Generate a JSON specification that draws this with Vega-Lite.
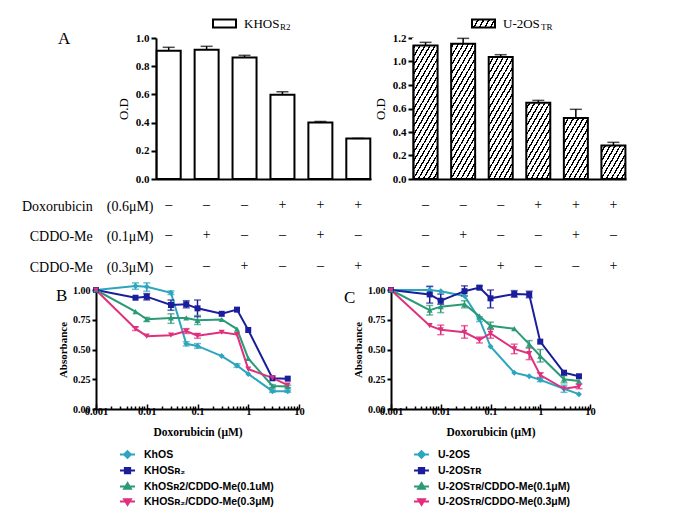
{
  "$schema": "https://vega.github.io/schema/vega-lite/v6.json",
  "background": "white",
  "padding": {"left": 21, "top": 11, "right": 5, "bottom": 5},
  "config": {
    "view": {"stroke": null},
    "font": "Liberation Serif",
    "axis": {"grid": false, "domainColor": "#000", "tickColor": "#000", "labelColor": "#000", "titleColor": "#000", "labelOverlap": false},
    "axisY": {"labelOverlap": false, "labelSeparation": 0},
    "legend": {"labelColor": "#000", "titleColor": "#000"},
    "title": {"color": "#000"}
  },
  "datasets": {
    "bars": [
      {"panel": "L", "cond": "–|–|–", "od": 0.91, "hi": 0.934},
      {"panel": "L", "cond": "–|+|–", "od": 0.917, "hi": 0.941},
      {"panel": "L", "cond": "–|–|+", "od": 0.861, "hi": 0.877},
      {"panel": "L", "cond": "+|–|–", "od": 0.597, "hi": 0.618},
      {"panel": "L", "cond": "+|+|–", "od": 0.401, "hi": 0.408},
      {"panel": "L", "cond": "+|–|+", "od": 0.288, "hi": 0.288},
      {"panel": "R", "cond": "–|–|–", "od": 1.137, "hi": 1.163},
      {"panel": "R", "cond": "–|+|–", "od": 1.152, "hi": 1.197},
      {"panel": "R", "cond": "–|–|+", "od": 1.038, "hi": 1.058},
      {"panel": "R", "cond": "+|–|–", "od": 0.649, "hi": 0.669},
      {"panel": "R", "cond": "+|+|–", "od": 0.519, "hi": 0.593},
      {"panel": "R", "cond": "+|–|+", "od": 0.286, "hi": 0.312}
    ],
    "lines": [
      {"p": "B", "s": "KhOS", "x": 0.001, "y": 1.0},
      {"p": "B", "s": "KhOS", "x": 0.006, "y": 1.034, "lo": 1.006, "hi": 1.06},
      {"p": "B", "s": "KhOS", "x": 0.01, "y": 1.028, "lo": 0.99, "hi": 1.06},
      {"p": "B", "s": "KhOS", "x": 0.03, "y": 0.977, "lo": 0.962, "hi": 0.992},
      {"p": "B", "s": "KhOS", "x": 0.06, "y": 0.548, "lo": 0.53, "hi": 0.565},
      {"p": "B", "s": "KhOS", "x": 0.1, "y": 0.53, "lo": 0.51, "hi": 0.55},
      {"p": "B", "s": "KhOS", "x": 0.3, "y": 0.445},
      {"p": "B", "s": "KhOS", "x": 0.6, "y": 0.365, "lo": 0.35, "hi": 0.38},
      {"p": "B", "s": "KhOS", "x": 1, "y": 0.295},
      {"p": "B", "s": "KhOS", "x": 3, "y": 0.15, "lo": 0.14, "hi": 0.16},
      {"p": "B", "s": "KhOS", "x": 6, "y": 0.15, "lo": 0.14, "hi": 0.16},
      {"p": "B", "s": "KHOSʀ₂", "x": 0.001, "y": 1.0},
      {"p": "B", "s": "KHOSʀ₂", "x": 0.006, "y": 0.935},
      {"p": "B", "s": "KHOSʀ₂", "x": 0.01, "y": 0.944, "lo": 0.916, "hi": 0.97},
      {"p": "B", "s": "KHOSʀ₂", "x": 0.03, "y": 0.874, "lo": 0.83, "hi": 0.916},
      {"p": "B", "s": "KHOSʀ₂", "x": 0.06, "y": 0.88, "lo": 0.85, "hi": 0.91},
      {"p": "B", "s": "KHOSʀ₂", "x": 0.1, "y": 0.846, "lo": 0.776, "hi": 0.916},
      {"p": "B", "s": "KHOSʀ₂", "x": 0.3, "y": 0.8},
      {"p": "B", "s": "KHOSʀ₂", "x": 0.6, "y": 0.835},
      {"p": "B", "s": "KHOSʀ₂", "x": 1, "y": 0.664},
      {"p": "B", "s": "KHOSʀ₂", "x": 3, "y": 0.258},
      {"p": "B", "s": "KHOSʀ₂", "x": 6, "y": 0.255},
      {"p": "B", "s": "KhOSʀ2/CDDO-Me(0.1uM)", "x": 0.001, "y": 1.0},
      {"p": "B", "s": "KhOSʀ2/CDDO-Me(0.1uM)", "x": 0.006, "y": 0.818},
      {"p": "B", "s": "KhOSʀ2/CDDO-Me(0.1uM)", "x": 0.01, "y": 0.754, "lo": 0.735, "hi": 0.77},
      {"p": "B", "s": "KhOSʀ2/CDDO-Me(0.1uM)", "x": 0.03, "y": 0.765, "lo": 0.72, "hi": 0.8},
      {"p": "B", "s": "KhOSʀ2/CDDO-Me(0.1uM)", "x": 0.06, "y": 0.765},
      {"p": "B", "s": "KhOSʀ2/CDDO-Me(0.1uM)", "x": 0.1, "y": 0.745, "lo": 0.71, "hi": 0.785},
      {"p": "B", "s": "KhOSʀ2/CDDO-Me(0.1uM)", "x": 0.3, "y": 0.752},
      {"p": "B", "s": "KhOSʀ2/CDDO-Me(0.1uM)", "x": 0.6, "y": 0.672},
      {"p": "B", "s": "KhOSʀ2/CDDO-Me(0.1uM)", "x": 1, "y": 0.425},
      {"p": "B", "s": "KhOSʀ2/CDDO-Me(0.1uM)", "x": 3, "y": 0.193, "lo": 0.18, "hi": 0.205},
      {"p": "B", "s": "KhOSʀ2/CDDO-Me(0.1uM)", "x": 6, "y": 0.19, "lo": 0.18, "hi": 0.2},
      {"p": "B", "s": "KHOSʀ₂/CDDO-Me(0.3μM)", "x": 0.001, "y": 1.0},
      {"p": "B", "s": "KHOSʀ₂/CDDO-Me(0.3μM)", "x": 0.006, "y": 0.675, "lo": 0.66, "hi": 0.69},
      {"p": "B", "s": "KHOSʀ₂/CDDO-Me(0.3μM)", "x": 0.01, "y": 0.612},
      {"p": "B", "s": "KHOSʀ₂/CDDO-Me(0.3μM)", "x": 0.03, "y": 0.62},
      {"p": "B", "s": "KHOSʀ₂/CDDO-Me(0.3μM)", "x": 0.06, "y": 0.655, "lo": 0.635, "hi": 0.675},
      {"p": "B", "s": "KHOSʀ₂/CDDO-Me(0.3μM)", "x": 0.1, "y": 0.616, "lo": 0.595, "hi": 0.635},
      {"p": "B", "s": "KHOSʀ₂/CDDO-Me(0.3μM)", "x": 0.3, "y": 0.645},
      {"p": "B", "s": "KHOSʀ₂/CDDO-Me(0.3μM)", "x": 0.6, "y": 0.625},
      {"p": "B", "s": "KHOSʀ₂/CDDO-Me(0.3μM)", "x": 1, "y": 0.335},
      {"p": "B", "s": "KHOSʀ₂/CDDO-Me(0.3μM)", "x": 3, "y": 0.262},
      {"p": "B", "s": "KHOSʀ₂/CDDO-Me(0.3μM)", "x": 6, "y": 0.2},
      {"p": "C", "s": "U-2OS", "x": 0.001, "y": 1.0},
      {"p": "C", "s": "U-2OS", "x": 0.006, "y": 1.0, "lo": 0.975, "hi": 1.03},
      {"p": "C", "s": "U-2OS", "x": 0.01, "y": 0.99},
      {"p": "C", "s": "U-2OS", "x": 0.03, "y": 0.95},
      {"p": "C", "s": "U-2OS", "x": 0.06, "y": 0.755, "lo": 0.735, "hi": 0.775},
      {"p": "C", "s": "U-2OS", "x": 0.1, "y": 0.525},
      {"p": "C", "s": "U-2OS", "x": 0.3, "y": 0.305},
      {"p": "C", "s": "U-2OS", "x": 0.6, "y": 0.275},
      {"p": "C", "s": "U-2OS", "x": 1, "y": 0.245, "lo": 0.23, "hi": 0.26},
      {"p": "C", "s": "U-2OS", "x": 3, "y": 0.17, "lo": 0.14, "hi": 0.2},
      {"p": "C", "s": "U-2OS", "x": 6, "y": 0.125},
      {"p": "C", "s": "U-2OSᴛʀ", "x": 0.001, "y": 1.0},
      {"p": "C", "s": "U-2OSᴛʀ", "x": 0.006, "y": 0.963, "lo": 0.89, "hi": 1.03},
      {"p": "C", "s": "U-2OSᴛʀ", "x": 0.01, "y": 0.91, "lo": 0.88, "hi": 0.966},
      {"p": "C", "s": "U-2OSᴛʀ", "x": 0.03, "y": 0.99, "lo": 0.95, "hi": 1.035},
      {"p": "C", "s": "U-2OSᴛʀ", "x": 0.06, "y": 1.02, "lo": 1.005, "hi": 1.035},
      {"p": "C", "s": "U-2OSᴛʀ", "x": 0.1, "y": 0.93, "lo": 0.85, "hi": 1.0},
      {"p": "C", "s": "U-2OSᴛʀ", "x": 0.3, "y": 0.966, "lo": 0.94, "hi": 0.995},
      {"p": "C", "s": "U-2OSᴛʀ", "x": 0.6, "y": 0.963, "lo": 0.935, "hi": 0.99},
      {"p": "C", "s": "U-2OSᴛʀ", "x": 1, "y": 0.566},
      {"p": "C", "s": "U-2OSᴛʀ", "x": 3, "y": 0.305},
      {"p": "C", "s": "U-2OSᴛʀ", "x": 6, "y": 0.275},
      {"p": "C", "s": "U-2OSᴛʀ/CDDO-Me(0.1μM)", "x": 0.001, "y": 1.0},
      {"p": "C", "s": "U-2OSᴛʀ/CDDO-Me(0.1μM)", "x": 0.006, "y": 0.83, "lo": 0.79, "hi": 0.87},
      {"p": "C", "s": "U-2OSᴛʀ/CDDO-Me(0.1μM)", "x": 0.01, "y": 0.86, "lo": 0.81, "hi": 0.91},
      {"p": "C", "s": "U-2OSᴛʀ/CDDO-Me(0.1μM)", "x": 0.03, "y": 0.88, "lo": 0.85, "hi": 0.91},
      {"p": "C", "s": "U-2OSᴛʀ/CDDO-Me(0.1μM)", "x": 0.06, "y": 0.78},
      {"p": "C", "s": "U-2OSᴛʀ/CDDO-Me(0.1μM)", "x": 0.1, "y": 0.7, "lo": 0.67, "hi": 0.73},
      {"p": "C", "s": "U-2OSᴛʀ/CDDO-Me(0.1μM)", "x": 0.3, "y": 0.675},
      {"p": "C", "s": "U-2OSᴛʀ/CDDO-Me(0.1μM)", "x": 0.6, "y": 0.545, "lo": 0.515, "hi": 0.575},
      {"p": "C", "s": "U-2OSᴛʀ/CDDO-Me(0.1μM)", "x": 1, "y": 0.445, "lo": 0.395, "hi": 0.5},
      {"p": "C", "s": "U-2OSᴛʀ/CDDO-Me(0.1μM)", "x": 3, "y": 0.25, "lo": 0.22, "hi": 0.28},
      {"p": "C", "s": "U-2OSᴛʀ/CDDO-Me(0.1μM)", "x": 6, "y": 0.235},
      {"p": "C", "s": "U-2OSᴛʀ/CDDO-Me(0.3μM)", "x": 0.001, "y": 1.0},
      {"p": "C", "s": "U-2OSᴛʀ/CDDO-Me(0.3μM)", "x": 0.006, "y": 0.7},
      {"p": "C", "s": "U-2OSᴛʀ/CDDO-Me(0.3μM)", "x": 0.01, "y": 0.665, "lo": 0.625, "hi": 0.705},
      {"p": "C", "s": "U-2OSᴛʀ/CDDO-Me(0.3μM)", "x": 0.03, "y": 0.645, "lo": 0.595, "hi": 0.7},
      {"p": "C", "s": "U-2OSᴛʀ/CDDO-Me(0.3μM)", "x": 0.06, "y": 0.58, "lo": 0.555, "hi": 0.605},
      {"p": "C", "s": "U-2OSᴛʀ/CDDO-Me(0.3μM)", "x": 0.1, "y": 0.635, "lo": 0.595, "hi": 0.675},
      {"p": "C", "s": "U-2OSᴛʀ/CDDO-Me(0.3μM)", "x": 0.3, "y": 0.505, "lo": 0.465, "hi": 0.545},
      {"p": "C", "s": "U-2OSᴛʀ/CDDO-Me(0.3μM)", "x": 0.6, "y": 0.465, "lo": 0.415, "hi": 0.515},
      {"p": "C", "s": "U-2OSᴛʀ/CDDO-Me(0.3μM)", "x": 1, "y": 0.285, "lo": 0.265, "hi": 0.305},
      {"p": "C", "s": "U-2OSᴛʀ/CDDO-Me(0.3μM)", "x": 3, "y": 0.17},
      {"p": "C", "s": "U-2OSᴛʀ/CDDO-Me(0.3μM)", "x": 6, "y": 0.19, "lo": 0.17, "hi": 0.21}
    ]
  },
  "spacing": 7,
  "resolve": {"scale": {"color": "independent", "shape": "independent", "stroke": "independent"}},
  "vconcat": [
    {
      "spacing": 2,
      "resolve": {"scale": {"color": "independent", "shape": "independent", "stroke": "independent"}},
      "hconcat": [
        {
          "width": 215,
          "height": 141,
          "data": {"name": "bars"},
          "transform": [{"filter": "datum.panel == 'L'"}],
          "title": {"text": "A", "orient": "top", "anchor": "start", "frame": "group", "offset": 0, "dx": -98, "dy": 50, "baseline": "alphabetic", "font": "Liberation Serif", "fontSize": 17, "fontWeight": "normal"},
          "encoding": {
            "x": {
              "field": "cond", "type": "nominal", "sort": null,
              "scale": {"paddingInner": 0.33, "paddingOuter": 0},
              "axis": {
                "title": ["Doxorubicin\u2003(0.6μM)", "CDDO-Me\u2003(0.1μM)", "CDDO-Me\u2003(0.3μM)"],
                "titleAlign": "right", "titleAnchor": "start", "titleX": -3, "titleY": 31, "titleBaseline": "alphabetic",
                "titleFont": "Liberation Serif", "titleFontSize": 14, "titleFontWeight": "normal", "titleLineHeight": 30.5, "titleAngle": 0,
                "labelExpr": "split(datum.label, '|')", "labelAngle": 0, "labelFont": "Liberation Serif", "labelFontSize": 14,
                "labelLineHeight": 30.5, "labelPadding": 18, "labelBaseline": "top", "ticks": false, "domainWidth": 2
              }
            },
            "y": {"type": "quantitative", "scale": {"domain": [0, 1], "nice": false},
              "axis": {"values": [0, 0.2, 0.4, 0.6, 0.8, 1], "format": ".1f", "labelOverlap": false, "title": "O.D", "titleFont": "Liberation Serif", "titleFontSize": 13, "titleFontWeight": "normal", "titlePadding": 5,
                "labelFont": "Liberation Serif", "labelFontWeight": "bold", "labelFontSize": 11, "labelPadding": 2, "tickSize": 5, "tickWidth": 2, "domainWidth": 2}}
          },
          "layer": [
            {
              "mark": {"type": "bar", "size": 24, "fill": "white", "stroke": "#000", "strokeWidth": 2},
              "encoding": {
                "y": {"field": "od", "type": "quantitative", "stack": null},
                "stroke": {"datum": "KHOS", "scale": {"range": ["#000"]},
                  "legend": {"orient": "none", "legendX": 56, "legendY": -27, "title": "R2", "titleOrient": "right", "titlePadding": 1, "titleFont": "Liberation Serif", "titleFontSize": 9, "titleFontWeight": "normal", "titleBaseline": "bottom", "titleAnchor": "end",
                    "labelFont": "Liberation Serif", "labelFontSize": 13, "labelOffset": 7, "padding": 0,
                    "symbolType": "M-1,-0.35H1V0.35H-1Z", "symbolSize": 529, "symbolStrokeWidth": 2,
                    "encoding": {"symbols": {"fill": {"value": "#fff"}, "stroke": {"value": "#000"}, "strokeWidth": {"value": 2}}}}}
              }
            },
            {
              "mark": {"type": "rule", "color": "#000", "strokeWidth": 1.5},
              "encoding": {"y": {"field": "od", "type": "quantitative"}, "y2": {"field": "hi"}}
            },
            {
              "mark": {"type": "tick", "color": "#000", "size": 12, "thickness": 1.5},
              "encoding": {"y": {"field": "hi", "type": "quantitative"}}
            }
          ]
        },
        {
          "width": 213,
          "height": 141,
          "data": {"name": "bars"},
          "transform": [{"filter": "datum.panel == 'R'"}],
          "encoding": {
            "x": {
              "field": "cond", "type": "nominal", "sort": null,
              "scale": {"paddingInner": 0.33, "paddingOuter": 0},
              "axis": {
                "title": null,
                "labelExpr": "split(datum.label, '|')", "labelAngle": 0, "labelFont": "Liberation Serif", "labelFontSize": 14,
                "labelLineHeight": 30.5, "labelPadding": 18, "labelBaseline": "top", "ticks": false, "domainWidth": 2
              }
            },
            "y": {"type": "quantitative", "scale": {"domain": [0, 1.2], "nice": false},
              "axis": {"values": [0, 0.2, 0.4, 0.6, 0.8, 1, 1.2], "format": ".1f", "labelOverlap": false, "title": "O.D", "titleFont": "Liberation Serif", "titleFontSize": 13, "titleFontWeight": "normal", "titlePadding": 5,
                "labelFont": "Liberation Serif", "labelFontWeight": "bold", "labelFontSize": 11, "labelPadding": 2, "tickSize": 5, "tickWidth": 2, "domainWidth": 2}}
          },
          "layer": [
            {
              "mark": {"type": "bar", "size": 24, "fill": {"gradient": "linear", "x1": 0, "y1": 0, "x2": 0.35143, "y2": 1.19135, "stops": [
                {"offset": 0, "color": "#000"}, {"offset": 0.014286, "color": "#000"}, {"offset": 0.014286, "color": "#fff"}, {"offset": 0.047619, "color": "#fff"},
                {"offset": 0.047619, "color": "#000"}, {"offset": 0.061905, "color": "#000"}, {"offset": 0.061905, "color": "#fff"}, {"offset": 0.095238, "color": "#fff"},
                {"offset": 0.095238, "color": "#000"}, {"offset": 0.109524, "color": "#000"}, {"offset": 0.109524, "color": "#fff"}, {"offset": 0.142857, "color": "#fff"},
                {"offset": 0.142857, "color": "#000"}, {"offset": 0.157143, "color": "#000"}, {"offset": 0.157143, "color": "#fff"}, {"offset": 0.190476, "color": "#fff"},
                {"offset": 0.190476, "color": "#000"}, {"offset": 0.204762, "color": "#000"}, {"offset": 0.204762, "color": "#fff"}, {"offset": 0.238095, "color": "#fff"},
                {"offset": 0.238095, "color": "#000"}, {"offset": 0.252381, "color": "#000"}, {"offset": 0.252381, "color": "#fff"}, {"offset": 0.285714, "color": "#fff"},
                {"offset": 0.285714, "color": "#000"}, {"offset": 0.3, "color": "#000"}, {"offset": 0.3, "color": "#fff"}, {"offset": 0.333333, "color": "#fff"},
                {"offset": 0.333333, "color": "#000"}, {"offset": 0.347619, "color": "#000"}, {"offset": 0.347619, "color": "#fff"}, {"offset": 0.380952, "color": "#fff"},
                {"offset": 0.380952, "color": "#000"}, {"offset": 0.395238, "color": "#000"}, {"offset": 0.395238, "color": "#fff"}, {"offset": 0.428571, "color": "#fff"},
                {"offset": 0.428571, "color": "#000"}, {"offset": 0.442857, "color": "#000"}, {"offset": 0.442857, "color": "#fff"}, {"offset": 0.47619, "color": "#fff"},
                {"offset": 0.47619, "color": "#000"}, {"offset": 0.490476, "color": "#000"}, {"offset": 0.490476, "color": "#fff"}, {"offset": 0.52381, "color": "#fff"},
                {"offset": 0.52381, "color": "#000"}, {"offset": 0.538095, "color": "#000"}, {"offset": 0.538095, "color": "#fff"}, {"offset": 0.571429, "color": "#fff"},
                {"offset": 0.571429, "color": "#000"}, {"offset": 0.585714, "color": "#000"}, {"offset": 0.585714, "color": "#fff"}, {"offset": 0.619048, "color": "#fff"},
                {"offset": 0.619048, "color": "#000"}, {"offset": 0.633333, "color": "#000"}, {"offset": 0.633333, "color": "#fff"}, {"offset": 0.666667, "color": "#fff"},
                {"offset": 0.666667, "color": "#000"}, {"offset": 0.680952, "color": "#000"}, {"offset": 0.680952, "color": "#fff"}, {"offset": 0.714286, "color": "#fff"},
                {"offset": 0.714286, "color": "#000"}, {"offset": 0.728571, "color": "#000"}, {"offset": 0.728571, "color": "#fff"}, {"offset": 0.761905, "color": "#fff"},
                {"offset": 0.761905, "color": "#000"}, {"offset": 0.77619, "color": "#000"}, {"offset": 0.77619, "color": "#fff"}, {"offset": 0.809524, "color": "#fff"},
                {"offset": 0.809524, "color": "#000"}, {"offset": 0.82381, "color": "#000"}, {"offset": 0.82381, "color": "#fff"}, {"offset": 0.857143, "color": "#fff"},
                {"offset": 0.857143, "color": "#000"}, {"offset": 0.871429, "color": "#000"}, {"offset": 0.871429, "color": "#fff"}, {"offset": 0.904762, "color": "#fff"},
                {"offset": 0.904762, "color": "#000"}, {"offset": 0.919048, "color": "#000"}, {"offset": 0.919048, "color": "#fff"}, {"offset": 0.952381, "color": "#fff"},
                {"offset": 0.952381, "color": "#000"}, {"offset": 0.966667, "color": "#000"}, {"offset": 0.966667, "color": "#fff"}, {"offset": 1, "color": "#fff"}
              ]}},
              "encoding": {
                "y": {"datum": 1.2, "type": "quantitative"},
                "y2": {"datum": 0}
              }
            },
            {
              "mark": {"type": "bar", "size": 27, "fill": "#fff"},
              "encoding": {"y": {"field": "od", "type": "quantitative", "stack": null}, "y2": {"datum": 1.2}}
            },
            {
              "mark": {"type": "bar", "size": 24, "fill": "transparent", "stroke": "#000", "strokeWidth": 2},
              "encoding": {
                "y": {"field": "od", "type": "quantitative", "stack": null},
                "stroke": {"datum": "U-2OS", "scale": {"range": ["#000"]},
                  "legend": {"orient": "none", "legendX": 58, "legendY": -27, "title": "TR", "titleOrient": "right", "titlePadding": 1, "titleFont": "Liberation Serif", "titleFontSize": 9, "titleFontWeight": "normal", "titleBaseline": "bottom", "titleAnchor": "end",
                    "labelFont": "Liberation Serif", "labelFontSize": 13, "labelOffset": 7, "padding": 0,
                    "symbolType": "M-1,-0.35H1V0.35H-1Z", "symbolSize": 529, "symbolStrokeWidth": 2,
                    "encoding": {"symbols": {"fill": {"value": {"gradient": "linear", "x1": 0, "y1": 0, "x2": 1.1543, "y2": 0.23186, "stops": [
                      {"offset": 0, "color": "#000"}, {"offset": 0.06, "color": "#000"}, {"offset": 0.06, "color": "#fff"}, {"offset": 0.2, "color": "#fff"},
                      {"offset": 0.2, "color": "#000"}, {"offset": 0.26, "color": "#000"}, {"offset": 0.26, "color": "#fff"}, {"offset": 0.4, "color": "#fff"},
                      {"offset": 0.4, "color": "#000"}, {"offset": 0.46, "color": "#000"}, {"offset": 0.46, "color": "#fff"}, {"offset": 0.6, "color": "#fff"},
                      {"offset": 0.6, "color": "#000"}, {"offset": 0.66, "color": "#000"}, {"offset": 0.66, "color": "#fff"}, {"offset": 0.8, "color": "#fff"},
                      {"offset": 0.8, "color": "#000"}, {"offset": 0.86, "color": "#000"}, {"offset": 0.86, "color": "#fff"}, {"offset": 1, "color": "#fff"}
                    ]}}, "stroke": {"value": "#000"}, "strokeWidth": {"value": 2}}}}}
              }
            },
            {
              "mark": {"type": "rule", "color": "#000", "strokeWidth": 1.5},
              "encoding": {"y": {"field": "od", "type": "quantitative"}, "y2": {"field": "hi"}}
            },
            {
              "mark": {"type": "tick", "color": "#000", "size": 12, "thickness": 1.5},
              "encoding": {"y": {"field": "hi", "type": "quantitative"}}
            }
          ]
        }
      ]
    },
    {
      "spacing": -15,
      "resolve": {"scale": {"color": "independent", "shape": "independent", "stroke": "independent"}},
      "hconcat": [
        {
          "width": 143,
          "height": 119,
          "data": {"name": "lines"},
          "transform": [{"filter": "datum.p == 'B'"}],
          "title": {"text": "B", "orient": "top", "anchor": "start", "frame": "group", "offset": 0, "dx": -100, "dy": 36, "baseline": "alphabetic", "font": "Liberation Serif", "fontSize": 17, "fontWeight": "normal"},
          "encoding": {
            "x": {"field": "x", "type": "quantitative", "scale": {"type": "log", "domain": [0.001, 10], "nice": false, "range": [-60, 143]},
              "axis": {"values": [0.001, 0.002, 0.003, 0.004, 0.005, 0.006, 0.007, 0.008, 0.009, 0.01, 0.02, 0.03, 0.04, 0.05, 0.06, 0.07, 0.08, 0.09, 0.1, 0.2, 0.3, 0.4, 0.5, 0.6, 0.7, 0.8, 0.9, 1, 2, 3, 4, 5, 6, 7, 8, 9, 10],
                "format": "~g", "labelExpr": "abs(log(datum.value)/LN10 - round(log(datum.value)/LN10)) < 0.001 ? datum.label : ''",
                "labelFlush": false, "labelOverlap": false, "labelFont": "Liberation Serif", "labelFontWeight": "bold", "labelFontSize": 10.5, "labelPadding": 2,
                "tickSize": {"condition": {"test": "abs(log(datum.value)/LN10 - round(log(datum.value)/LN10)) < 0.001", "value": -5}, "value": -3},
                "tickWidth": 1.5, "domainWidth": 2,
                "title": "Doxorubicin (μM)", "titleFont": "Liberation Serif", "titleFontSize": 11.5, "titleFontWeight": "bold", "titleX": 41.5, "titleY": 17, "titleAlign": "center", "titleBaseline": "top"}},
            "y": {"type": "quantitative", "scale": {"domain": [0, 1], "nice": false},
              "axis": {"values": [0, 0.25, 0.5, 0.75, 1], "format": ".2f", "labelOverlap": false, "offset": 60, "title": "Absorbance", "titleFont": "Liberation Serif", "titleFontWeight": "bold", "titleFontSize": 11, "titlePadding": 4,
                "labelFont": "Liberation Serif", "labelFontWeight": "bold", "labelFontSize": 10, "labelPadding": 2, "tickSize": 4, "tickWidth": 2, "domainWidth": 2}}
          },
          "layer": [
            {
              "mark": {"type": "line", "strokeWidth": 2},
              "encoding": {
                "y": {"field": "y", "type": "quantitative"},
                "color": {"field": "s", "type": "nominal",
                  "scale": {"domain": ["KhOS", "KHOSʀ₂", "KhOSʀ2/CDDO-Me(0.1uM)", "KHOSʀ₂/CDDO-Me(0.3μM)"], "range": ["#2ca5be", "#1b1e9b", "#2b9a76", "#df2f7e"]},
                  "legend": {"orient": "none", "legendX": -37, "legendY": 156, "direction": "vertical", "title": null, "padding": 0, "rowPadding": 0,
                    "labelFont": "Liberation Sans", "labelFontSize": 10.5, "labelFontWeight": "bold", "labelOffset": 8, "symbolSize": 225, "symbolStrokeWidth": 2,
                    "encoding": {"symbols": {
                      "shape": {"value": {"expr": "['M-1,0H1M0,-0.45L0.45,0L0,0.45L-0.45,0Z','M-1,0H1M-0.35,-0.35H0.35V0.35H-0.35Z','M-1,0H1M0,-0.45L0.45,0.3H-0.45Z','M-1,0H1M0,0.45L0.45,-0.3H-0.45Z'][datum.index]"}},
                      "fill": {"value": {"expr": "['#2ca5be','#1b1e9b','#2b9a76','#df2f7e'][datum.index]"}},
                      "stroke": {"value": {"expr": "['#2ca5be','#1b1e9b','#2b9a76','#df2f7e'][datum.index]"}}}}}}
              }
            },
            {
              "transform": [{"filter": "isValid(datum.hi)"}],
              "mark": {"type": "rule", "strokeWidth": 1.5},
              "encoding": {"y": {"field": "lo", "type": "quantitative"}, "y2": {"field": "hi"}, "color": {"field": "s", "type": "nominal", "legend": null}}
            },
            {
              "transform": [{"filter": "isValid(datum.hi)"}],
              "mark": {"type": "tick", "orient": "horizontal", "size": 7, "thickness": 1.5},
              "encoding": {"y": {"field": "hi", "type": "quantitative"}, "color": {"field": "s", "type": "nominal", "legend": null}}
            },
            {
              "transform": [{"filter": "isValid(datum.lo)"}],
              "mark": {"type": "tick", "orient": "horizontal", "size": 7, "thickness": 1.5},
              "encoding": {"y": {"field": "lo", "type": "quantitative"}, "color": {"field": "s", "type": "nominal", "legend": null}}
            },
            {
              "transform": [{"filter": "datum.s == 'KhOS'"}],
              "mark": {"type": "point", "shape": "diamond", "filled": true, "opacity": 1, "size": 36},
              "encoding": {"y": {"field": "y", "type": "quantitative"}, "color": {"field": "s", "type": "nominal", "legend": null}}
            },
            {
              "transform": [{"filter": "datum.s == 'KHOSʀ₂'"}],
              "mark": {"type": "point", "shape": "square", "filled": true, "opacity": 1, "size": 36},
              "encoding": {"y": {"field": "y", "type": "quantitative"}, "color": {"field": "s", "type": "nominal", "legend": null}}
            },
            {
              "transform": [{"filter": "datum.s == 'KhOSʀ2/CDDO-Me(0.1uM)'"}],
              "mark": {"type": "point", "shape": "triangle-up", "filled": true, "opacity": 1, "size": 36},
              "encoding": {"y": {"field": "y", "type": "quantitative"}, "color": {"field": "s", "type": "nominal", "legend": null}}
            },
            {
              "transform": [{"filter": "datum.s == 'KHOSʀ₂/CDDO-Me(0.3μM)'"}],
              "mark": {"type": "point", "shape": "triangle-down", "filled": true, "opacity": 1, "size": 36},
              "encoding": {"y": {"field": "y", "type": "quantitative"}, "color": {"field": "s", "type": "nominal", "legend": null}}
            }
          ]
        },
        {
          "width": 199,
          "height": 119,
          "data": {"name": "lines"},
          "transform": [{"filter": "datum.p == 'C'"}],
          "title": {"text": "C", "orient": "top", "anchor": "start", "frame": "group", "offset": 0, "dx": -47, "dy": 36, "baseline": "alphabetic", "font": "Liberation Serif", "fontSize": 17, "fontWeight": "normal"},
          "encoding": {
            "x": {"field": "x", "type": "quantitative", "scale": {"type": "log", "domain": [0.001, 10], "nice": false},
              "axis": {"values": [0.001, 0.002, 0.003, 0.004, 0.005, 0.006, 0.007, 0.008, 0.009, 0.01, 0.02, 0.03, 0.04, 0.05, 0.06, 0.07, 0.08, 0.09, 0.1, 0.2, 0.3, 0.4, 0.5, 0.6, 0.7, 0.8, 0.9, 1, 2, 3, 4, 5, 6, 7, 8, 9, 10],
                "format": "~g", "labelExpr": "abs(log(datum.value)/LN10 - round(log(datum.value)/LN10)) < 0.001 ? datum.label : ''",
                "labelFlush": false, "labelOverlap": false, "labelFont": "Liberation Serif", "labelFontWeight": "bold", "labelFontSize": 10.5, "labelPadding": 2,
                "tickSize": {"condition": {"test": "abs(log(datum.value)/LN10 - round(log(datum.value)/LN10)) < 0.001", "value": -5}, "value": -3},
                "tickWidth": 1.5, "domainWidth": 2,
                "title": "Doxorubicin (μM)", "titleFont": "Liberation Serif", "titleFontSize": 11.5, "titleFontWeight": "bold", "titleY": 17, "titleBaseline": "top"}},
            "y": {"type": "quantitative", "scale": {"domain": [0, 1], "nice": false},
              "axis": {"values": [0, 0.25, 0.5, 0.75, 1], "format": ".2f", "labelOverlap": false, "title": "Absorbance", "titleFont": "Liberation Serif", "titleFontWeight": "bold", "titleFontSize": 11, "titlePadding": 4,
                "labelFont": "Liberation Serif", "labelFontWeight": "bold", "labelFontSize": 10, "labelPadding": 2, "tickSize": 4, "tickWidth": 2, "domainWidth": 2}}
          },
          "layer": [
            {
              "mark": {"type": "line", "strokeWidth": 2},
              "encoding": {
                "y": {"field": "y", "type": "quantitative"},
                "color": {"field": "s", "type": "nominal",
                  "scale": {"domain": ["U-2OS", "U-2OSᴛʀ", "U-2OSᴛʀ/CDDO-Me(0.1μM)", "U-2OSᴛʀ/CDDO-Me(0.3μM)"], "range": ["#2ca5be", "#1b1e9b", "#2b9a76", "#df2f7e"]},
                  "legend": {"orient": "none", "legendX": 22, "legendY": 156, "direction": "vertical", "title": null, "padding": 0, "rowPadding": 0,
                    "labelFont": "Liberation Sans", "labelFontSize": 10.5, "labelFontWeight": "bold", "labelOffset": 8, "symbolSize": 225, "symbolStrokeWidth": 2,
                    "encoding": {"symbols": {
                      "shape": {"value": {"expr": "['M-1,0H1M0,-0.45L0.45,0L0,0.45L-0.45,0Z','M-1,0H1M-0.35,-0.35H0.35V0.35H-0.35Z','M-1,0H1M0,-0.45L0.45,0.3H-0.45Z','M-1,0H1M0,0.45L0.45,-0.3H-0.45Z'][datum.index]"}},
                      "fill": {"value": {"expr": "['#2ca5be','#1b1e9b','#2b9a76','#df2f7e'][datum.index]"}},
                      "stroke": {"value": {"expr": "['#2ca5be','#1b1e9b','#2b9a76','#df2f7e'][datum.index]"}}}}}}
              }
            },
            {
              "transform": [{"filter": "isValid(datum.hi)"}],
              "mark": {"type": "rule", "strokeWidth": 1.5},
              "encoding": {"y": {"field": "lo", "type": "quantitative"}, "y2": {"field": "hi"}, "color": {"field": "s", "type": "nominal", "legend": null}}
            },
            {
              "transform": [{"filter": "isValid(datum.hi)"}],
              "mark": {"type": "tick", "orient": "horizontal", "size": 7, "thickness": 1.5},
              "encoding": {"y": {"field": "hi", "type": "quantitative"}, "color": {"field": "s", "type": "nominal", "legend": null}}
            },
            {
              "transform": [{"filter": "isValid(datum.lo)"}],
              "mark": {"type": "tick", "orient": "horizontal", "size": 7, "thickness": 1.5},
              "encoding": {"y": {"field": "lo", "type": "quantitative"}, "color": {"field": "s", "type": "nominal", "legend": null}}
            },
            {
              "transform": [{"filter": "datum.s == 'U-2OS'"}],
              "mark": {"type": "point", "shape": "diamond", "filled": true, "opacity": 1, "size": 36},
              "encoding": {"y": {"field": "y", "type": "quantitative"}, "color": {"field": "s", "type": "nominal", "legend": null}}
            },
            {
              "transform": [{"filter": "datum.s == 'U-2OSᴛʀ'"}],
              "mark": {"type": "point", "shape": "square", "filled": true, "opacity": 1, "size": 36},
              "encoding": {"y": {"field": "y", "type": "quantitative"}, "color": {"field": "s", "type": "nominal", "legend": null}}
            },
            {
              "transform": [{"filter": "datum.s == 'U-2OSᴛʀ/CDDO-Me(0.1μM)'"}],
              "mark": {"type": "point", "shape": "triangle-up", "filled": true, "opacity": 1, "size": 36},
              "encoding": {"y": {"field": "y", "type": "quantitative"}, "color": {"field": "s", "type": "nominal", "legend": null}}
            },
            {
              "transform": [{"filter": "datum.s == 'U-2OSᴛʀ/CDDO-Me(0.3μM)'"}],
              "mark": {"type": "point", "shape": "triangle-down", "filled": true, "opacity": 1, "size": 36},
              "encoding": {"y": {"field": "y", "type": "quantitative"}, "color": {"field": "s", "type": "nominal", "legend": null}}
            }
          ]
        }
      ]
    }
  ]
}
